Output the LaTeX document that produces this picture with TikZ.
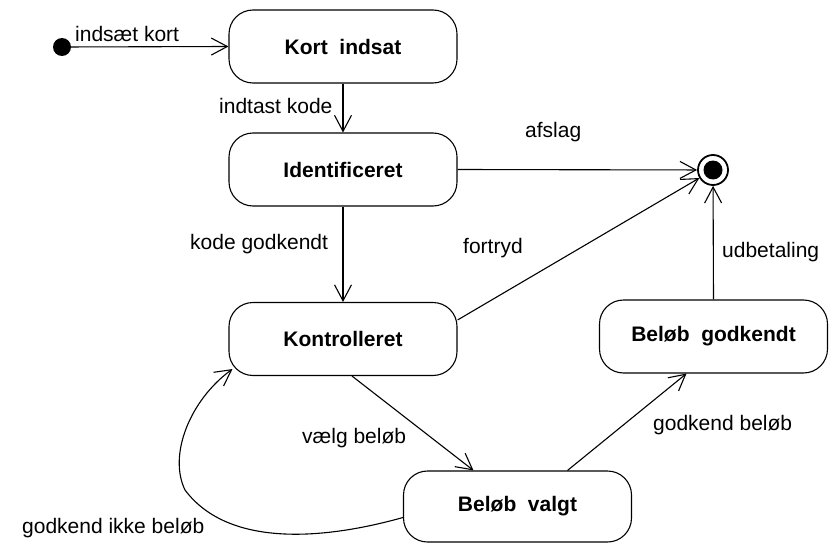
\documentclass[tikz,border=0pt]{standalone}
\usepackage{fontspec}
\setmainfont{Liberation Sans}
\usetikzlibrary{arrows.meta}
\begin{document}
\begin{tikzpicture}[x=1pt,y=-1pt,
  every node/.style={font=\fontsize{21}{25}\selectfont},
  statebox/.style={draw, line width=1.1pt, rounded corners=24pt,
    minimum width=228pt, minimum height=73pt, inner sep=0pt,
    font=\fontsize{21}{25}\selectfont\bfseries},
  trans/.style={line width=1.1pt,
    -{Straight Barb[length=16pt,width=17pt,line width=1.1pt]}},
  lbl/.style={anchor=base west, inner sep=0pt}
]
\useasboundingbox (0,0) rectangle (830,543);

% states
\node[statebox] (kort)  at (343,46.5)  {Kort~~indsat};
\node[statebox] (ident) at (343,169.5) {Identificeret};
\node[statebox] (kontr) at (343,339)   {Kontrolleret};
\node[statebox] (bgodk) at (713.5,336.5) {Beløb~~godkendt};
\node[statebox, minimum height=71pt] (bvalgt) at (517.5,506.5) {Beløb~~valgt};

% initial and final pseudo states
\node[circle, fill, minimum size=18pt, inner sep=0pt] (init) at (62,47) {};
\node[circle, draw, line width=1.8pt, minimum size=30pt, inner sep=0pt] (final) at (713,170) {};
\fill (final.center) circle[radius=9.5pt];

% transitions
\draw[trans] (init) -- (kort.west);
\draw[trans] (kort.south) -- (ident.north);
\draw[trans] (ident.east) -- (final);
\draw[trans] (ident.south) -- (kontr.north);
\draw[trans] ([yshift=19pt]kontr.east) -- (final);
\draw[trans] (bgodk.north) -- (final);
\draw[trans] ([xshift=9pt]kontr.south) -- ([xshift=-44pt]bvalgt.north);
\draw[trans] ([xshift=50pt]bvalgt.north) -- ([xshift=-27pt]bgodk.south);
\coordinate (loopend) at ([shift={(4pt,7pt)}]kontr.south west);
\draw[trans] ([yshift=-11pt]bvalgt.west)
  .. controls (330,538) and (230,550) .. (185,490)
  .. controls (168,455) and (190,400) .. (loopend);

% transition labels
\node[lbl] (l1) at (75,42)   {indsæt kort};
\node[lbl] (l2) at (219,113) {indtast kode};
\node[lbl] (l3) at (525,137) {afslag};
\node[lbl] (l4) at (190,249) {kode godkendt};
\node[lbl] (l5) at (463,253) {fortryd};
\node[lbl] (l6) at (722,257) {udbetaling};
\node[lbl] (l7) at (302,443) {vælg beløb};
\node[lbl] (l8) at (653,430) {godkend beløb};
\node[lbl] (l9) at (22,533)  {godkend ikke beløb};
\end{tikzpicture}
\end{document}
